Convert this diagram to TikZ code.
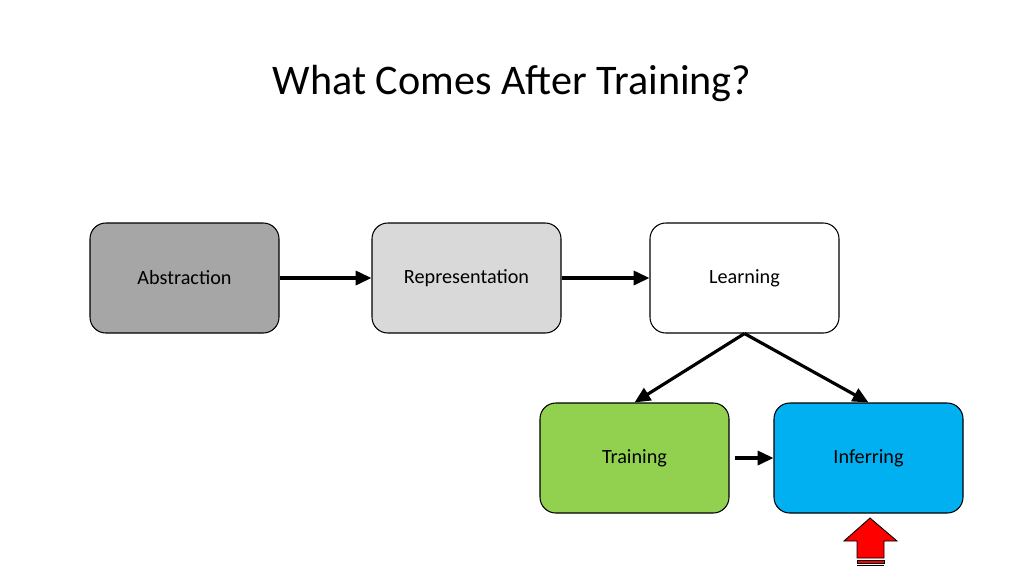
\documentclass[tikz,border=0pt]{standalone}
\usepackage{fontspec}
\setmainfont{Carlito}
\usetikzlibrary{arrows.meta}
\begin{document}
\begin{tikzpicture}[x=0.02cm,y=-0.02cm,
  box/.style={draw=black,rounded corners=9pt,minimum width=189*0.02cm,minimum height=110*0.02cm,font=\fontsize{11.5}{14}\selectfont,line width=0.6pt},
  conn/.style={line width=1.8pt,-{Triangle[length=9pt,width=8pt]}}]
\useasboundingbox (0,0) rectangle (1024,576);
\node (title) at (512,83) {\fontsize{24}{28}\selectfont What Comes After Training?};
\node[box,fill=black!35] (abs) at (184.5,278) {Abstraction};
\node[box,fill=black!15] (rep) at (466.5,278) {Representation};
\node[box,fill=white] (lea) at (744.5,278) {Learning};
\node[box,fill={rgb,255:red,146;green,208;blue,80}] (tra) at (634.5,458) {Training};
\node[box,fill={rgb,255:red,0;green,176;blue,240}] (inf) at (868.5,458) {Inferring};
\draw[conn] (abs) -- (rep);
\draw[conn] (rep) -- (lea);
\draw[conn] (lea.south) -- (tra.north);
\draw[conn] (lea.south) -- (inf.north);
\draw[conn] ([xshift=3pt]tra.east) -- (inf.west);
\coordinate (ra) at (870,518);
\draw[fill=red,line width=0.5pt] (870,518) -- (897,541) -- (884,541) -- (884,558) -- (857,558) -- (857,541) -- (844,541) -- cycle;
\draw[fill=red,line width=0.5pt] (857,560) rectangle (884,563);
\draw[line width=0.6pt] (857,565.5) -- (884,565.5);
\end{tikzpicture}
\end{document}
